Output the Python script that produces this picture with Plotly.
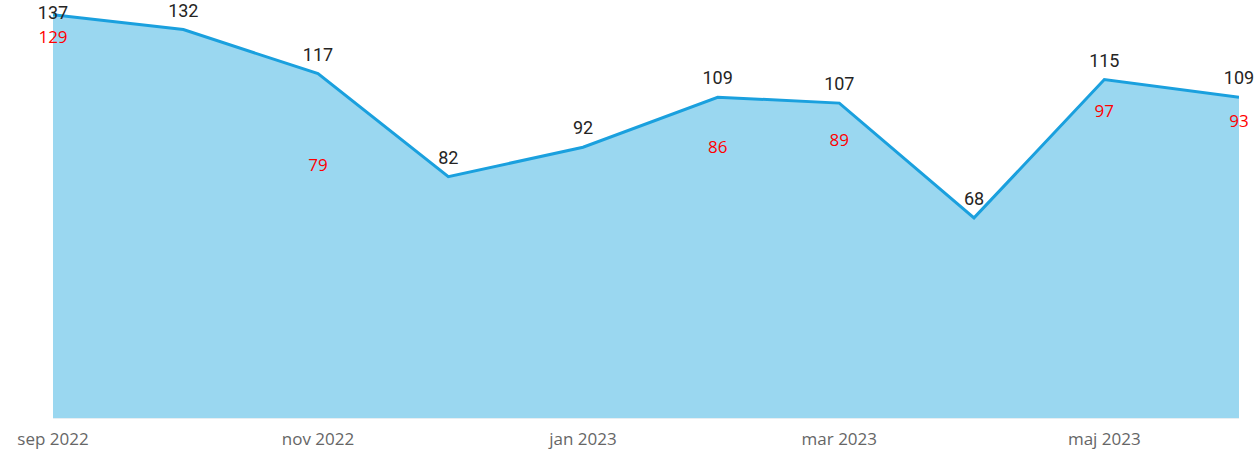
import plotly.graph_objects as go

months = ["2022-09-01", "2022-10-01", "2022-11-01", "2022-12-01", "2023-01-01",
          "2023-02-01", "2023-03-01", "2023-04-01", "2023-05-01", "2023-06-01"]
values = [137, 132, 117, 82, 92, 109, 107, 68, 115, 109]
red_values = [129, None, 79, None, None, 86, 89, None, 97, 93]
tick_vals = ["2022-09-01", "2022-11-01", "2023-01-01", "2023-03-01", "2023-05-01"]
tick_text = ["sep 2022", "nov 2022", "jan 2023", "mar 2023", "maj 2023"]

label_pos = ["middle center"] + ["top center"] * (len(values) - 1)
red_pos = ["middle center"] * 8 + ["top center"] * 2

fig = go.Figure()
fig.add_trace(go.Scatter(
    x=months, y=values, mode="lines", fill="tozeroy",
    line=dict(color="#1AA0DE", width=3), fillcolor="#9AD7F0",
    hoverinfo="skip", showlegend=False))
fig.add_trace(go.Scatter(
    x=months, y=values, mode="markers+text", text=[str(v) for v in values],
    textposition=label_pos, marker=dict(size=12, color="rgba(0,0,0,0)"),
    textfont=dict(family="Roboto", size=18, color="#252423"),
    cliponaxis=False, showlegend=False, hoverinfo="skip"))
fig.add_trace(go.Scatter(
    x=months, y=red_values, mode="text",
    text=[("" if v is None else str(v)) for v in red_values],
    textposition=red_pos,
    textfont=dict(family="Open Sans", size=17, color="#FF0000"),
    yaxis="y2", cliponaxis=False, showlegend=False, hoverinfo="skip"))

fig.update_layout(
    width=1255, height=450,
    margin=dict(l=53, r=16, t=6, b=32),
    plot_bgcolor="white", paper_bgcolor="white",
    xaxis=dict(type="date", range=["2022-09-01", "2023-06-01"],
               tickvals=tick_vals, ticktext=tick_text, showgrid=False,
               showline=True, linecolor="#E6EEF3", linewidth=1,
               ticks="", zeroline=False, ticklabelstandoff=6, automargin=False,
               tickfont=dict(family="Open Sans", size=17, color="#666666")),
    yaxis=dict(range=[0, 140], visible=False, showgrid=False, zeroline=False,
               automargin=False),
    yaxis2=dict(range=[-18.78, 141.72], overlaying="y", visible=False,
                showgrid=False, zeroline=False, automargin=False),
)

fig.write_html("out.html", config={"displayModeBar": False},
               post_script="document.body.style.margin='0px';")
